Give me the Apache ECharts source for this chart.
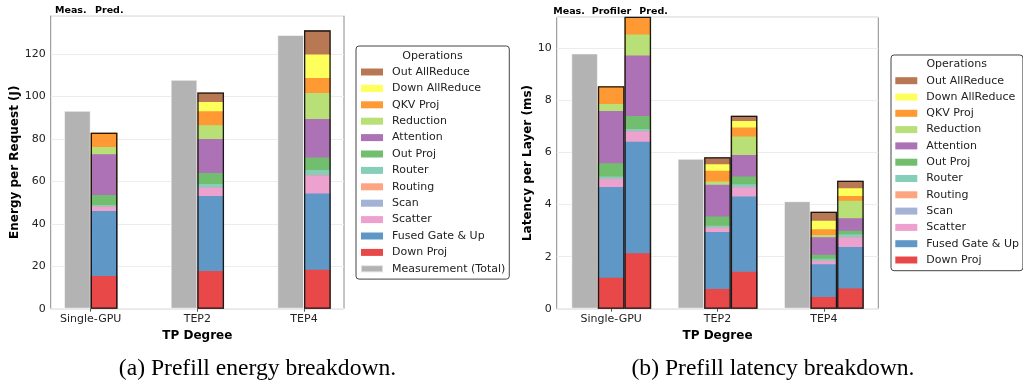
<!DOCTYPE html>
<html><head><meta charset="utf-8">
<script src="https://cdn.jsdelivr.net/npm/echarts@6/dist/echarts.min.js"></script>
<style>html,body{margin:0;padding:0;background:#fff}#c{width:1023px;height:386px}</style>
</head><body><div id="c"></div>
<script>
const categories = ['Single-GPU', 'TEP2', 'TEP4'];
// stacking order, bottom to top
const operations = ['Down Proj', 'Fused Gate & Up', 'Scatter', 'Scan', 'Routing', 'Router',
  'Out Proj', 'Attention', 'Reduction', 'QKV Proj', 'Down AllReduce', 'Out AllReduce'];
const opColors = ['#e94849', '#5f98c6', '#eca1cf', '#a4b3d5', '#fda481', '#85ceb7',
  '#71bf6e', '#ad71b5', '#b8e076', '#ff9933', '#ffff5c', '#b87853'];
const measName = 'Measurement (Total)';
const measColor = '#b3b3b3';

// (a) energy per request (J)
const energyMeas = [93.2, 107.8, 128.9];
const energyPredSingleGPU = [15.4, 30.6, 1.9, 0.2, 0.1, 0.7, 4.6, 19.3, 3.4, 6.7, 0, 0];
const energyPredTEP2 = [17.7, 35.4, 3.9, 0.2, 0.1, 1.4, 5.2, 16.0, 6.5, 6.6, 4.4, 4.4];
const energyPredTEP4 = [18.4, 35.9, 8.3, 0.3, 0.2, 2.2, 5.9, 18.2, 12.2, 7.1, 11.0, 11.4];

// (b) latency per layer (ms)
const latencyMeas = [9.81, 5.76, 4.13];
const latencyProfSingleGPU = [1.19, 3.49, 0.30, 0.02, 0.01, 0.07, 0.51, 2.01, 0.27, 0.68, 0, 0];
const latencyProfTEP2 = [0.76, 2.19, 0.15, 0.02, 0.01, 0.06, 0.35, 1.22, 0.13, 0.41, 0.25, 0.27];
const latencyProfTEP4 = [0.45, 1.26, 0.11, 0.02, 0.01, 0.07, 0.15, 0.68, 0.08, 0.22, 0.33, 0.35];
const latencyPredSingleGPU = [2.13, 4.29, 0.39, 0.02, 0.01, 0.07, 0.50, 2.32, 0.81, 0.76, 0, 0];
const latencyPredTEP2 = [1.42, 2.89, 0.35, 0.02, 0.01, 0.09, 0.30, 0.83, 0.71, 0.34, 0.25, 0.21];
const latencyPredTEP4 = [0.78, 1.59, 0.37, 0.02, 0.01, 0.09, 0.14, 0.48, 0.67, 0.18, 0.30, 0.29];

const energyTicks = [0, 20, 40, 60, 80, 100, 120];
const latencyTicks = [0, 2, 4, 6, 8, 10];
const legendOrder = operations.slice().reverse();

// ---- layout ----
const FONT = 'DejaVu Sans';
const G = [
  {left: 50.7, top: 15.7, width: 293.3, height: 293, xMin: -0.375, xMax: 2.375, yMax: 138},
  {left: 556.7, top: 17.3, width: 321.6, height: 291.4, xMin: -0.5125, xMax: 2.5125, yMax: 11.2}
];
const barW = G.map(g => 0.25 * g.width / (g.xMax - g.xMin));
const sum = a => a.reduce((s, v) => s + v, 0);
const cumulative = (a, i) => sum(a.slice(0, i + 1));

// Stacked bar: each segment is a bar from 0 up to its cumulative top, painted from the
// top segment down so each lower segment covers the part below its own base.
function stackSeries(bars, offset, idx, stackId) {
  const out = [];
  for (let i = operations.length - 1; i >= 0; i--) {
    out.push({
      type: 'bar', name: operations[i], xAxisIndex: idx, yAxisIndex: idx,
      barWidth: barW[idx], barGap: '-100%', silent: true,
      itemStyle: {color: opColors[i]},
      data: bars.map((b, j) => [j + offset, cumulative(b, i)])
    });
  }
  out.push({
    type: 'bar', name: stackId + ' outline', xAxisIndex: idx, yAxisIndex: idx,
    barWidth: barW[idx], barGap: '-100%', silent: true, z: 5,
    itemStyle: {color: 'rgba(0,0,0,0)', borderColor: '#1a1a1a', borderWidth: 1.3},
    data: bars.map((b, j) => [j + offset, sum(b)])
  });
  return out;
}
function measSeries(vals, offset, idx) {
  return {
    type: 'bar', name: measName, xAxisIndex: idx, yAxisIndex: idx,
    barWidth: barW[idx], barGap: '-100%', silent: true,
    itemStyle: {color: measColor, borderColor: 'rgba(255,255,255,0.55)', borderWidth: 1},
    data: vals.map((v, j) => [j + offset, v])
  };
}

const series = [].concat(
  [measSeries(energyMeas, -0.125, 0)],
  stackSeries([energyPredSingleGPU, energyPredTEP2, energyPredTEP4], 0.125, 0, 'ePred'),
  [measSeries(latencyMeas, -0.25, 1)],
  stackSeries([latencyProfSingleGPU, latencyProfTEP2, latencyProfTEP4], 0, 1, 'lProf'),
  stackSeries([latencyPredSingleGPU, latencyPredTEP2, latencyPredTEP4], 0.25, 1, 'lPred')
);

const nameStyle = {fontFamily: FONT, fontWeight: 'bold', fontSize: 12, color: '#000', verticalAlign: 'middle'};
const labelStyle = {fontFamily: FONT, fontSize: 11, color: '#222'};

function xAxis(i) {
  const g = G[i];
  return {
    type: 'value', gridIndex: i, min: g.xMin, max: g.xMax,
    name: 'TP Degree', nameLocation: 'middle', nameGap: 22.5, nameTextStyle: nameStyle,
    axisLine: {show: false}, splitLine: {show: false},
    axisTick: {show: true, length: 3, lineStyle: {color: '#555'}, customValues: [0, 1, 2]},
    axisLabel: Object.assign({margin: 5, customValues: [0, 1, 2],
      formatter: v => categories[Math.round(v)] || ''}, labelStyle)
  };
}
function yAxis(i, name, interval, gap, ticks) {
  const g = G[i];
  return {
    type: 'value', gridIndex: i, min: 0, max: g.yMax, interval: interval,
    name: name, nameLocation: 'middle', nameGap: gap, nameTextStyle: nameStyle,
    axisLine: {show: false}, axisTick: {show: false},
    splitLine: {show: true, lineStyle: {color: '#ececec', width: 1}},
    axisLabel: Object.assign({margin: 5, showMaxLabel: false,
      formatter: v => (ticks.indexOf(v) >= 0 ? String(v) : '')}, labelStyle)
  };
}

const legendText = {fontFamily: FONT, fontSize: 11, color: '#222', lineHeight: 13, padding: [0, 0, 0, 4]};
const chart = echarts.init(document.getElementById('c'), null, {renderer: 'canvas'});
chart.setOption({
  animation: false,
  backgroundColor: '#fff',
  grid: G.map(g => ({left: g.left, top: g.top, width: g.width, height: g.height,
    show: true, borderColor: '#8a8a8a', borderWidth: 1, backgroundColor: 'transparent', containLabel: false})),
  xAxis: [xAxis(0), xAxis(1)],
  yAxis: [yAxis(0, 'Energy per Request (J)', 20, 34.5, energyTicks),
          yAxis(1, 'Latency per Layer (ms)', 2, 26, latencyTicks)],
  legend: [
    {data: legendOrder.concat([measName]), orient: 'vertical', left: 356, top: 46,
     padding: [19.5, 4, 3.8, 4], itemWidth: 22, itemHeight: 7, itemGap: 3.4, icon: 'rect',
     selectedMode: false, borderColor: '#444', borderWidth: 1, borderRadius: 3,
     textStyle: legendText},
    {data: legendOrder, orient: 'vertical', left: 891, top: 55,
     padding: [19.2, 4, 4.2, 4.3], itemWidth: 22, itemHeight: 7, itemGap: 3.3, icon: 'rect',
     selectedMode: false, borderColor: '#444', borderWidth: 1, borderRadius: 3,
     textStyle: legendText}
  ],
  graphic: [
    {type: 'text', x: 432.5, y: 55.7, z: 100, style: {text: 'Operations', align: 'center', verticalAlign: 'middle', fontFamily: FONT, fontSize: 11, fill: '#222'}},
    {type: 'text', x: 956.7, y: 64.3, z: 100, style: {text: 'Operations', align: 'center', verticalAlign: 'middle', fontFamily: FONT, fontSize: 11, fill: '#222'}},
    {type: 'text', x: 55, y: 10.8, z: 100, style: {text: 'Meas.', verticalAlign: 'middle', fontFamily: FONT, fontWeight: 'bold', fontSize: 9.5, fill: '#000'}},
    {type: 'text', x: 95, y: 10.8, z: 100, style: {text: 'Pred.', verticalAlign: 'middle', fontFamily: FONT, fontWeight: 'bold', fontSize: 9.5, fill: '#000'}},
    {type: 'text', x: 553.3, y: 12, z: 100, style: {text: 'Meas.', verticalAlign: 'middle', fontFamily: FONT, fontWeight: 'bold', fontSize: 9.5, fill: '#000'}},
    {type: 'text', x: 591.7, y: 12, z: 100, style: {text: 'Profiler', verticalAlign: 'middle', fontFamily: FONT, fontWeight: 'bold', fontSize: 9.5, fill: '#000'}},
    {type: 'text', x: 639.3, y: 12, z: 100, style: {text: 'Pred.', verticalAlign: 'middle', fontFamily: FONT, fontWeight: 'bold', fontSize: 9.5, fill: '#000'}},
    {type: 'text', x: 257.5, y: 369, z: 100, style: {text: '(a) Prefill energy breakdown.', align: 'center', verticalAlign: 'middle', fontFamily: 'Liberation Serif', fontSize: 23.6, fill: '#000'}},
    {type: 'text', x: 773, y: 369, z: 100, style: {text: '(b) Prefill latency breakdown.', align: 'center', verticalAlign: 'middle', fontFamily: 'Liberation Serif', fontSize: 23.6, fill: '#000'}}
  ],
  series: series
});
</script></body></html>
